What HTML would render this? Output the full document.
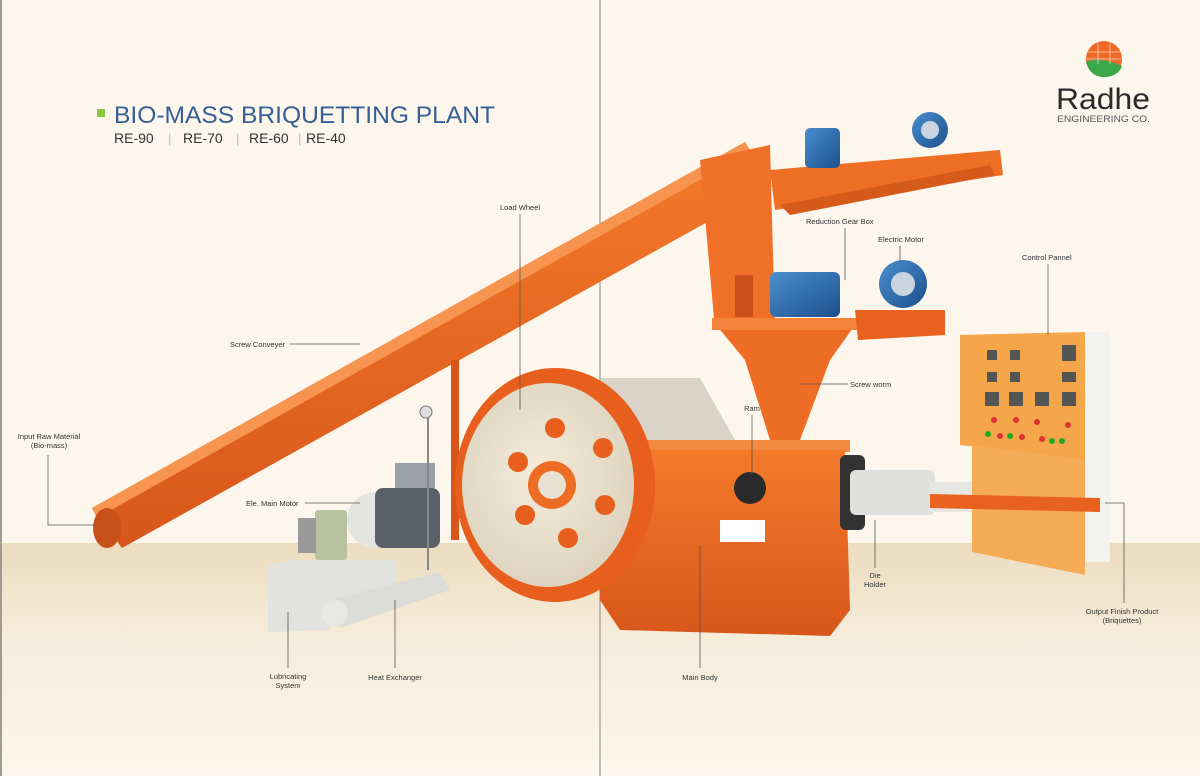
<!DOCTYPE html>
<html><head><meta charset="utf-8"><style>
html,body{margin:0;padding:0;width:1200px;height:776px;overflow:hidden;background:#fdf6ec}
svg{display:block}
.l{font-family:"Liberation Sans",sans-serif;font-size:7.5px;fill:#333}
.ln{stroke:#555;stroke-width:0.8;fill:none}
</style></head><body>
<svg width="1200" height="776" viewBox="0 0 1200 776">
<defs>
<linearGradient id="fl" x1="0" y1="0" x2="0" y2="1"><stop offset="0" stop-color="#ecdcbf"/><stop offset="0.4" stop-color="#f6ecda"/><stop offset="1" stop-color="#fdf6ec"/></linearGradient>
<linearGradient id="or" x1="0" y1="0" x2="0" y2="1"><stop offset="0" stop-color="#f47a2a"/><stop offset="1" stop-color="#d8561a"/></linearGradient>
<radialGradient id="wh" cx="0.45" cy="0.45" r="0.6"><stop offset="0" stop-color="#f4ecda"/><stop offset="1" stop-color="#dcd2bd"/></radialGradient>
<linearGradient id="bl" x1="0" y1="0" x2="1" y2="1"><stop offset="0" stop-color="#4a8fd0"/><stop offset="1" stop-color="#1d4f8c"/></linearGradient>
</defs>
<rect x="0" y="0" width="1200" height="776" fill="#fdf6ec"/>
<rect x="0" y="543" width="1200" height="233" fill="url(#fl)"/>
<rect x="0" y="0" width="2" height="776" fill="#a09a90"/>
<line x1="600" y1="0" x2="600" y2="776" stroke="#8e8a84" stroke-width="1"/>

<!-- title -->
<rect x="97" y="109" width="8" height="8" fill="#8dc63f"/>
<text x="114" y="123" font-family="Liberation Sans,sans-serif" font-size="24.5" fill="#355f95" textLength="381" lengthAdjust="spacingAndGlyphs">BIO-MASS BRIQUETTING PLANT</text>
<text x="114" y="143" font-family="Liberation Sans,sans-serif" font-size="14" fill="#333">RE-90</text>
<text x="168" y="143" font-family="Liberation Sans,sans-serif" font-size="13" fill="#bbb">|</text>
<text x="183" y="143" font-family="Liberation Sans,sans-serif" font-size="14" fill="#333">RE-70</text>
<text x="236" y="143" font-family="Liberation Sans,sans-serif" font-size="13" fill="#bbb">|</text>
<text x="249" y="143" font-family="Liberation Sans,sans-serif" font-size="14" fill="#333">RE-60</text>
<text x="298" y="143" font-family="Liberation Sans,sans-serif" font-size="13" fill="#bbb">|</text>
<text x="306" y="143" font-family="Liberation Sans,sans-serif" font-size="14" fill="#333">RE-40</text>

<!-- logo -->
<circle cx="1104" cy="59" r="18" fill="#f06a25"/>
<path d="M1086 62 Q1100 56 1122 66 Q1118 77 1104 77 Q1090 77 1086 62Z" fill="#3aa84a"/>
<g stroke="#fff" stroke-width="0.8" opacity="0.7" fill="none"><line x1="1088" y1="52" x2="1120" y2="52"/><line x1="1087" y1="59" x2="1121" y2="59"/><line x1="1098" y1="42" x2="1098" y2="64"/><line x1="1110" y1="42" x2="1110" y2="64"/></g>
<text x="1056" y="109" font-family="Liberation Sans,sans-serif" font-size="30" fill="#2a2a2a" textLength="94" lengthAdjust="spacingAndGlyphs">Radhe</text>
<text x="1057" y="122" font-family="Liberation Sans,sans-serif" font-size="9" fill="#555" textLength="93" lengthAdjust="spacingAndGlyphs">ENGINEERING CO.</text>

<!-- screw conveyor -->
<polygon points="92,508 745,142 772,186 122,548" fill="url(#or)"/>
<polygon points="92,508 745,142 750,152 97,518" fill="#f79450"/>
<ellipse cx="107" cy="528" rx="14" ry="20" fill="#c8501a"/>
<line x1="455" y1="360" x2="455" y2="540" stroke="#d8561a" stroke-width="8"/>
<!-- hopper column -->
<polygon points="700,160 770,145 775,330 715,330" fill="#f07028"/>
<rect x="735" y="275" width="18" height="42" fill="#c9501a"/>
<polygon points="770,170 1000,150 1003,175 775,210" fill="#ee6e24"/>
<polygon points="780,205 990,165 995,175 790,215" fill="#d65a1a"/>
<!-- funnel -->
<polygon points="712,320 860,318 830,360 800,440 770,440 745,360" fill="#ee6d25"/>
<rect x="712" y="318" width="148" height="12" fill="#f4843c"/>
<polygon points="855,310 945,310 945,335 858,340" fill="#e8621e"/>
<!-- motors -->
<rect x="770" y="272" width="70" height="45" rx="6" fill="url(#bl)"/>
<circle cx="903" cy="284" r="24" fill="url(#bl)"/>
<circle cx="903" cy="284" r="12" fill="#c9d4e0"/>
<rect x="805" y="128" width="35" height="40" rx="5" fill="url(#bl)"/>
<circle cx="930" cy="130" r="18" fill="url(#bl)"/>
<circle cx="930" cy="130" r="9" fill="#c9d4e0"/>
<!-- drum -->
<polygon points="600,378 700,378 735,440 620,440" fill="#d9d3c8"/>
<!-- main body -->
<rect x="600" y="440" width="250" height="12" fill="#f38a3e"/>
<polygon points="600,450 845,450 850,610 830,636 620,630 600,600" fill="url(#or)"/>
<rect x="720" y="520" width="45" height="22" fill="#fff"/>
<circle cx="750" cy="488" r="16" fill="#2a2a2a"/>
<rect x="840" y="455" width="25" height="75" rx="6" fill="#333"/>
<!-- wheel -->
<ellipse cx="555" cy="485" rx="100" ry="117" fill="#e85f1d"/>
<ellipse cx="548" cy="485" rx="86" ry="102" fill="url(#wh)"/>
<circle cx="552" cy="485" r="24" fill="#ee6d25"/>
<circle cx="552" cy="485" r="14" fill="#e8e0d0"/>
<g fill="#e85f1d"><circle cx="555" cy="428" r="10"/><circle cx="518" cy="462" r="10"/><circle cx="603" cy="448" r="10"/><circle cx="525" cy="515" r="10"/><circle cx="605" cy="505" r="10"/><circle cx="568" cy="538" r="10"/></g>
<!-- die holder -->
<rect x="850" y="470" width="85" height="45" rx="6" fill="#e0e0dc"/>
<rect x="930" y="482" width="130" height="30" fill="#e6e6e2"/>
<!-- control panel -->
<rect x="1085" y="332" width="25" height="230" fill="#f2f2ef"/>
<polygon points="960,335 1085,332 1085,460 960,445" fill="#f5a54a"/>
<polygon points="972,445 1085,460 1085,575 972,552" fill="#f6ac56"/>
<g fill="#555"><rect x="987" y="350" width="10" height="10"/><rect x="1010" y="350" width="10" height="10"/><rect x="1062" y="345" width="14" height="16"/><rect x="987" y="372" width="10" height="10"/><rect x="1010" y="372" width="10" height="10"/><rect x="1062" y="372" width="14" height="10"/><rect x="985" y="392" width="14" height="14"/><rect x="1009" y="392" width="14" height="14"/><rect x="1035" y="392" width="14" height="14"/><rect x="1062" y="392" width="14" height="14"/></g>
<g fill="#d33"><circle cx="994" cy="420" r="3"/><circle cx="1016" cy="420" r="3"/><circle cx="1037" cy="422" r="3"/><circle cx="1068" cy="425" r="3"/><circle cx="1000" cy="436" r="3"/><circle cx="1022" cy="437" r="3"/><circle cx="1042" cy="439" r="3"/></g>
<g fill="#2a2"><circle cx="988" cy="434" r="3"/><circle cx="1010" cy="436" r="3"/><circle cx="1052" cy="441" r="3"/><circle cx="1062" cy="441" r="3"/></g>
<polygon points="930,494 1100,498 1100,512 930,508" fill="#e8621e"/>
<!-- main motor & lubrication -->
<circle cx="375" cy="520" r="28" fill="#e4e4e0"/>
<rect x="375" y="488" width="65" height="60" rx="8" fill="#5a6068"/>
<rect x="395" y="463" width="40" height="25" fill="#9aa0a6"/>
<rect x="315" y="510" width="32" height="50" rx="3" fill="#b8c2a0"/>
<rect x="298" y="518" width="18" height="35" fill="#999"/>
<polygon points="268,565 295,560 395,560 395,600 330,620 330,630 268,632" fill="#e2e2de"/>
<polygon points="330,600 440,572 450,590 340,628" fill="#dcdcd8"/>
<circle cx="335" cy="613" r="13" fill="#e8e8e4"/>
<line x1="428" y1="410" x2="428" y2="570" stroke="#888" stroke-width="2"/>
<circle cx="426" cy="412" r="6" fill="#ddd" stroke="#777"/>

<!-- labels -->
<path class="ln" d="M48 455 V525 H95"/>
<text class="l" x="49" y="439" text-anchor="middle">Input Raw Material</text>
<text class="l" x="49" y="448" text-anchor="middle">(Bio-mass)</text>
<text class="l" x="230" y="347">Screw Conveyer</text>
<line class="ln" x1="290" y1="344" x2="360" y2="344"/>
<text class="l" x="500" y="210">Load Wheel</text>
<line class="ln" x1="520" y1="214" x2="520" y2="410"/>
<text class="l" x="246" y="506">Ele. Main Motor</text>
<line class="ln" x1="305" y1="503" x2="360" y2="503"/>
<line class="ln" x1="288" y1="612" x2="288" y2="668"/>
<text class="l" x="288" y="679" text-anchor="middle">Lubricating</text>
<text class="l" x="288" y="688" text-anchor="middle">System</text>
<line class="ln" x1="395" y1="600" x2="395" y2="668"/>
<text class="l" x="395" y="680" text-anchor="middle">Heat Exchanger</text>
<line class="ln" x1="700" y1="545" x2="700" y2="668"/>
<text class="l" x="700" y="680" text-anchor="middle">Main Body</text>
<text class="l" x="752" y="411" text-anchor="middle">Ram</text>
<line class="ln" x1="752" y1="415" x2="752" y2="475"/>
<text class="l" x="850" y="387">Screw worm</text>
<line class="ln" x1="800" y1="384" x2="848" y2="384"/>
<text class="l" x="806" y="224">Reduction Gear Box</text>
<line class="ln" x1="845" y1="228" x2="845" y2="280"/>
<text class="l" x="878" y="242">Electric Motor</text>
<line class="ln" x1="900" y1="246" x2="900" y2="262"/>
<text class="l" x="1022" y="260">Control Pannel</text>
<line class="ln" x1="1048" y1="264" x2="1048" y2="335"/>
<line class="ln" x1="875" y1="520" x2="875" y2="568"/>
<text class="l" x="875" y="578" text-anchor="middle">Die</text>
<text class="l" x="875" y="587" text-anchor="middle">Holder</text>
<path class="ln" d="M1105 503 H1124 V603"/>
<text class="l" x="1122" y="614" text-anchor="middle">Output Finish Product</text>
<text class="l" x="1122" y="623" text-anchor="middle">(Briquettes)</text>
</svg>
</body></html>
